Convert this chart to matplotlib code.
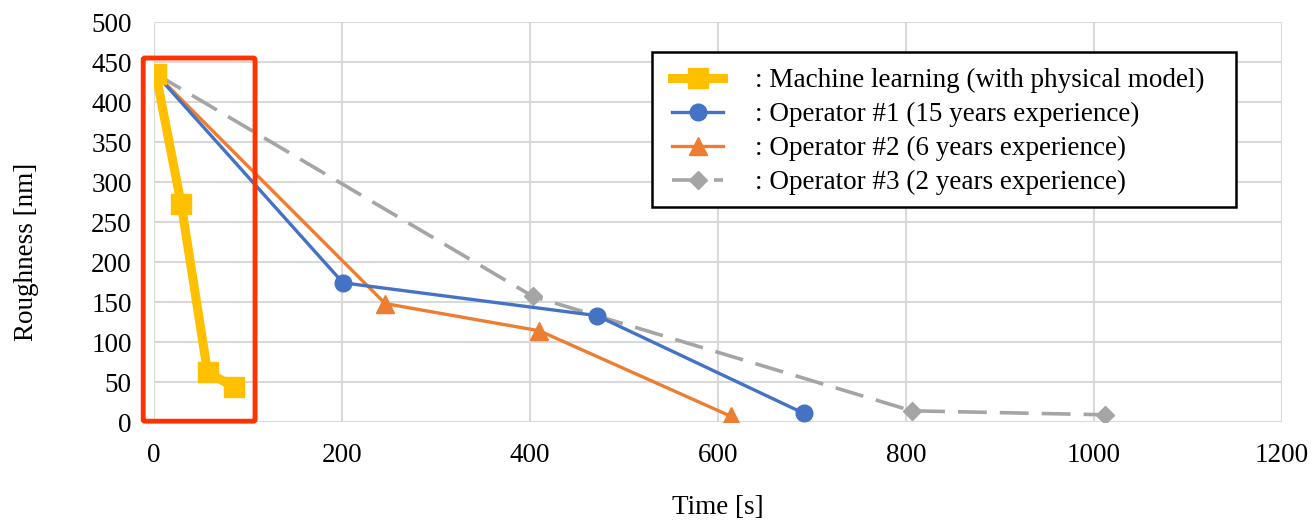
import matplotlib
matplotlib.use("Agg")
import matplotlib.pyplot as plt
from matplotlib.patches import FancyBboxPatch, Rectangle

# Roughness vs. processing time for each polishing strategy
ml_time = [2, 29, 57, 85]
ml_rough = [435, 272, 62, 44]

op1_time = [2, 201, 471, 691]
op1_rough = [435, 174, 133, 11]

op2_time = [2, 246, 410, 614]
op2_rough = [435, 148, 114, 7]

op3_time = [2, 403, 806, 1012]
op3_rough = [435, 157, 14, 9]

labels = [
    ": Machine learning (with physical model)",
    ": Operator #1 (15 years experience)",
    ": Operator #2 (6 years experience)",
    ": Operator #3 (2 years experience)",
]

x_ticks = [0, 200, 400, 600, 800, 1000, 1200]
y_ticks = list(range(0, 501, 50))

plt.rcParams["font.family"] = ["Liberation Serif", "DejaVu Serif"]
plt.rcParams["font.size"] = 19.5

W, H = 1316, 523
fig = plt.figure(figsize=(W / 100, H / 100), dpi=100)
ax = fig.add_axes([154 / W, 1 - 422 / H, (1282 - 154) / W, (422 - 22) / H])

ax.plot(op3_time, op3_rough, color="#A5A5A5", lw=2.6, dashes=(8, 3.6),
        marker="D", ms=9, label=labels[3], zorder=3)
ax.plot(op2_time, op2_rough, color="#ED7D31", lw=2.4,
        marker="^", ms=13, label=labels[2], zorder=4)
ax.plot(op1_time, op1_rough, color="#4472C4", lw=2.4,
        marker="o", ms=12, label=labels[1], zorder=5)
ax.plot(ml_time, ml_rough, color="#FFC000", lw=6.5,
        marker="s", ms=15, label=labels[0], zorder=6)

ax.set_xlim(0, 1200)
ax.set_ylim(0, 500)
ax.set_xticks(x_ticks)
ax.set_yticks(y_ticks)
ax.grid(True, color="#D9D9D9", lw=1.5)
ax.set_axisbelow(True)
for s in ax.spines.values():
    s.set_visible(False)
ax.tick_params(axis="x", length=0, pad=15)
ax.tick_params(axis="y", length=0, pad=16)

# Axis titles placed at fixed figure positions
fig.text(718 / W, 1 - 508 / H, "Time [s]", ha="center", va="center")
fig.text(27 / W, 1 - 252 / H, "Roughness [nm]", ha="center", va="center",
         rotation=90)

# Highlight box around the machine-learning series
box = FancyBboxPatch((-11.5, 1), 119, 454, boxstyle="round,pad=0,rounding_size=2",
                     transform=ax.transData, fill=False, ec="#FF3300", lw=3.5,
                     clip_on=False, zorder=7)
ax.add_patch(box)

# Legend frame drawn separately so its padding can be set freely
frame = Rectangle((652 / W, 1 - 207 / H), (1236 - 652) / W, (207 - 52) / H,
                  transform=fig.transFigure, facecolor="white", edgecolor="black",
                  lw=1.8, zorder=8)
fig.add_artist(frame)

handles, labs = ax.get_legend_handles_labels()
order = [3, 2, 1, 0]
leg = fig.legend([handles[i] for i in order], [labs[i] for i in order],
                 loc="upper left", bbox_to_anchor=(672 / W, 1 - 68 / H),
                 bbox_transform=fig.transFigure, frameon=False, borderpad=0,
                 handlelength=1.9, handletextpad=1.15, labelspacing=0.33,
                 borderaxespad=0, fontsize=19.5)
leg.set_zorder(9)

fig.savefig("out.png", dpi=100)
